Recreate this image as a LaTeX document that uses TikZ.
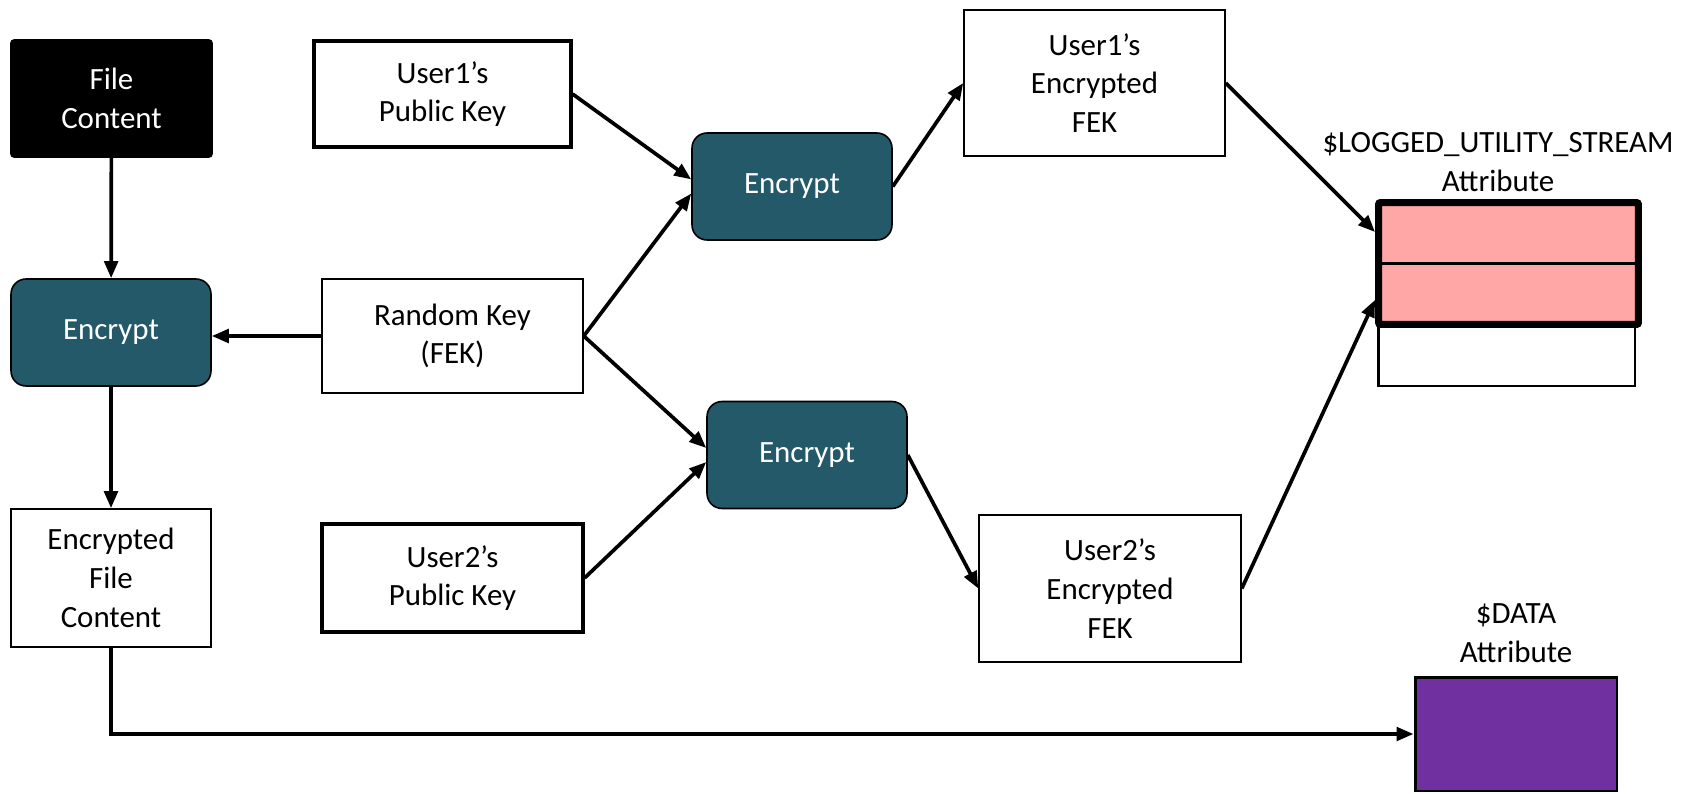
\documentclass[tikz,border=0pt]{standalone}
\usepackage{fontspec}
\setmainfont{Carlito}
\usetikzlibrary{arrows.meta}
\definecolor{enccol}{RGB}{35,89,104}
\definecolor{rowpink}{RGB}{255,166,166}
\definecolor{datapurple}{RGB}{112,48,160}
\begin{document}
\begin{tikzpicture}[x=0.02cm,y=-0.02cm,
  every node/.style={font=\fontsize{17.6}{22}\selectfont, align=center, inner sep=0pt},
  plain/.style={draw, line width=0.9pt, fill=white},
  keybox/.style={draw, line width=1.8pt, fill=white},
  encbox/.style={draw, line width=0.9pt, fill=enccol, text=white, rounded corners=0.3cm, minimum width=4cm, minimum height=2.14cm},
  link/.style={-{Triangle[length=0.34cm,width=0.27cm]}, line width=2.1pt}]
\useasboundingbox (0,0) rectangle (1690,794);

\node[plain, fill=black, text=white, rounded corners=0.06cm, minimum width=4.02cm, minimum height=2.34cm] (filecontent) at (111.5,98.5) {File\\Content};
\node[encbox] (enccontent) at (111,332.5) {Encrypt};
\node[plain, minimum width=4cm, minimum height=2.76cm] (cipherfile) at (111,578) {Encrypted\\File\\Content};

\node[keybox, minimum width=5.14cm, minimum height=2.12cm] (pubkey1) at (442.5,94) {User1’s\\Public Key};
\node[plain, minimum width=5.22cm, minimum height=2.28cm] (fek) at (452.5,336) {Random Key\\(FEK)};
\node[keybox, minimum width=5.22cm, minimum height=2.16cm] (pubkey2) at (452.5,578) {User2’s\\Public Key};

\node[encbox] (enc1) at (792,186.5) {Encrypt};
\node[encbox] (enc2) at (807,455) {Encrypt};

\node[plain, minimum width=5.22cm, minimum height=2.92cm] (efek1) at (1094.5,83) {User1’s\\Encrypted\\FEK};
\node[plain, minimum width=5.24cm, minimum height=2.94cm] (efek2) at (1110,588.5) {User2’s\\Encrypted\\FEK};

\node[draw, line width=1.7pt, fill=white, minimum width=5.14cm, minimum height=1.22cm] (lusspare) at (1506.5,355.5) {};
\node[draw, line width=0.14cm, fill=rowpink, rounded corners=0.04cm, minimum width=5.2cm, minimum height=2.44cm] (lus) at (1508.5,263.5) {};
\draw[line width=1.7pt] (lus.west) -- (lus.east);
\node (lushead) at (1498,162) {\$LOGGED\_UTILITY\_STREAM\\Attribute};

\node[draw, line width=1.7pt, fill=datapurple, minimum width=4.04cm, minimum height=2.28cm] (data) at (1516,734) {};
\node (datahead) at (1516,633) {\$DATA\\Attribute};

\draw[link] (filecontent) -- (enccontent);
\draw[link] (fek.west) -- (fek.west -| enccontent.east);
\draw[link] (enccontent) -- (cipherfile);
\draw[link] (pubkey1.east) -- (enc1.176);
\draw[link] (fek.east) -- (enc1.184);
\draw[link] (fek.east) -- (enc2.176);
\draw[link] (pubkey2.east) -- (enc2.184);
\draw[link] (enc1.east) -- (efek1.west);
\draw[link] (enc2.east) -- (efek2.west);
\draw[link] (efek1.east) -- ([yshift=0.63cm]lus.west);
\draw[link] (efek2.east) -- ([yshift=-0.73cm]lus.west);
\draw[link] (cipherfile.south) |- (data.west);
\end{tikzpicture}
\end{document}
